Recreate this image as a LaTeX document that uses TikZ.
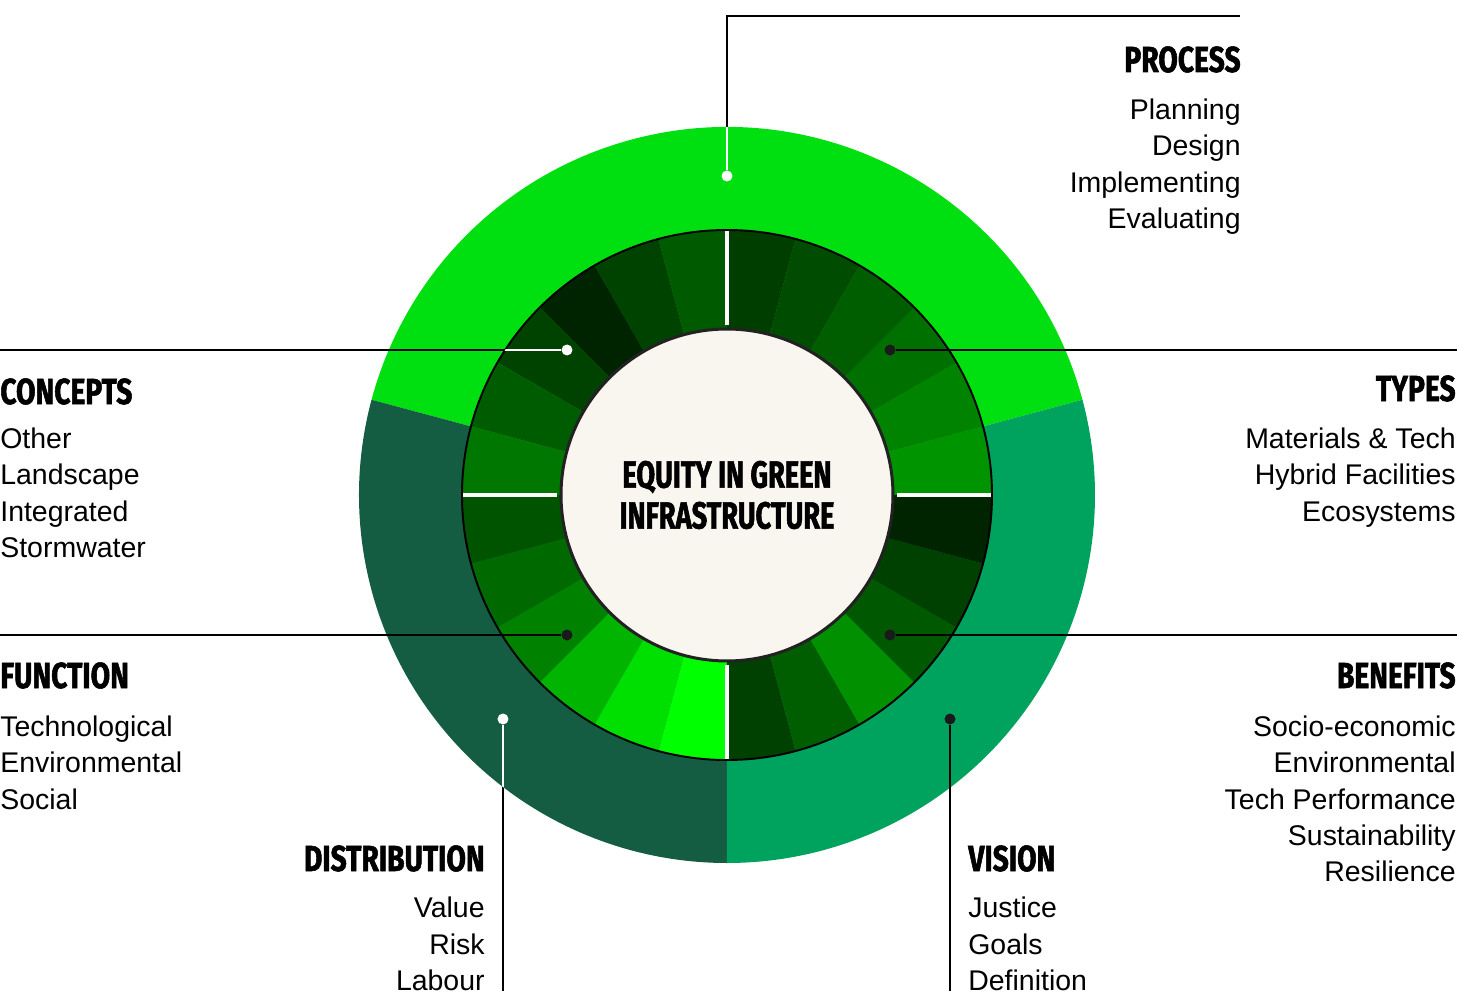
\documentclass[tikz,border=0pt]{standalone}
\usepackage{fontspec}
\setmainfont{Liberation Sans}
\newfontfamily\headfont[FakeStretch=0.78, FakeBold=1.5]{Fira Sans}
\newfontfamily\titlefont[FakeStretch=0.72, FakeBold=1.5]{Fira Sans}
\definecolor{ringbright}{HTML}{00E010}
\definecolor{ringdark}{HTML}{145C42}
\definecolor{ringmid}{HTML}{00A35E}
\definecolor{hubfill}{HTML}{F9F5EF}
\definecolor{hubline}{HTML}{222222}
\definecolor{dotink}{HTML}{1A1A1A}
\tikzstyle{leader} = [black, line width=0.9pt]
\tikzstyle{leaderwhite} = [white, line width=0.9pt]
\tikzstyle{dotblack} = [circle, fill=dotink, inner sep=0pt, minimum size=0.22cm]
\tikzstyle{dotwhite} = [circle, fill=white, inner sep=0pt, minimum size=0.22cm]
\tikzstyle{heading} = [inner sep=0pt, font=\headfont\bfseries\fontsize{20.6}{24}\selectfont]
\tikzstyle{items} = [inner sep=0pt, font=\fontsize{16.2}{20.5}\selectfont]

\begin{document}
\begin{tikzpicture}[
  x=0.02cm, y=0.02cm,
  hub/.style={circle, fill=hubfill, draw=hubline, line width=1.7pt, minimum size=6.64cm,
    align=center, font=\titlefont\bfseries\fontsize{21.5}{23.3}\selectfont},
]
\useasboundingbox (-727,-506) rectangle (730,495);

% outer ring
\fill[ringbright] (0,0) -- (15:368) arc[start angle=15, end angle=165, radius=368] -- cycle;
\fill[ringdark] (0,0) -- (165:368) arc[start angle=165, end angle=270, radius=368] -- cycle;
\fill[ringmid] (0,0) -- (270:368) arc[start angle=270, end angle=375, radius=368] -- cycle;

% inner ring, 15 degree slices
\foreach \a/\c in {0/009400, 15/008400, 30/007000, 45/005E00, 60/004C00, 75/003E00,
                   90/005A00, 105/004200, 120/002400, 135/004200, 150/005C00, 165/007800,
                   180/005400, 195/006A00, 210/008200, 225/00B400, 240/00E000, 255/00FF00,
                   270/004000, 285/005E00, 300/009000, 315/005800, 330/004000, 345/002400} {
  \definecolor{slice}{HTML}{\c}
  \fill[slice] (0,0) -- (\a:265) arc[start angle=\a, end angle=\a+15, radius=265] -- cycle;
}
\draw[black, line width=1.1pt] (0,0) circle[radius=265];
\foreach \a in {0,90,180,270}
  \draw[white, line width=2.8pt] (\a:170) -- (\a:264);

\node[hub] (hub) at (0,0) {EQUITY IN GREEN\\INFRASTRUCTURE};

% dots and leader ends
\node[dotwhite] (process-dot) at (0,319) {};
\node[dotblack] (types-dot) at (163,145) {};
\node[dotblack] (benefits-dot) at (163,-140) {};
\node[dotblack] (vision-dot) at (223,-224) {};
\node[dotwhite] (distribution-dot) at (-224,-224) {};
\node[dotblack] (function-dot) at (-160,-140) {};
\node[dotwhite] (concepts-dot) at (-160,145) {};
\coordinate (process-bend) at (0,479);
\coordinate (process-end) at (513,479);
\coordinate (types-end) at (730,145);
\coordinate (benefits-end) at (730,-140);
\coordinate (vision-end) at (223,-496);
\coordinate (distribution-end) at (-224,-496);
\coordinate (function-end) at (-727,-140);
\coordinate (concepts-end) at (-727,145);

\draw[leader] (process-dot) -- (process-bend) -- (process-end);
\draw[leader] (types-dot) -- (types-end);
\draw[leader] (benefits-dot) -- (benefits-end);
\draw[leader] (vision-dot) -- (vision-end);
\draw[leader] (distribution-dot) -- (distribution-end);
\draw[leader] (function-dot) -- (function-end);
\draw[leader] (concepts-dot) -- (concepts-end);
\begin{scope}
  \clip (0,0) circle[radius=368];
  \draw[leaderwhite] (process-dot) -- (process-bend);
  \draw[leaderwhite] (distribution-dot) -- (distribution-end);
\end{scope}
\begin{scope}
  \clip (0,0) circle[radius=265];
  \draw[leaderwhite] (concepts-dot) -- (concepts-end);
\end{scope}

% labels
\node[heading, anchor=base east] (process) at (514,423) {PROCESS};
\node[items, anchor=north east, align=right] (process-list) at (514,396)
  {Planning\\Design\\Implementing\\Evaluating};
\node[heading, anchor=base east] (types) at (729,94) {TYPES};
\node[items, anchor=north east, align=right] (types-list) at (729,67)
  {Materials \& Tech\\Hybrid Facilities\\Ecosystems};
\node[heading, anchor=base east] (benefits) at (729,-193) {BENEFITS};
\node[items, anchor=north east, align=right] (benefits-list) at (729,-221)
  {Socio-economic\\Environmental\\Tech Performance\\Sustainability\\Resilience};
\node[heading, anchor=base west] (vision) at (241,-376) {VISION};
\node[items, anchor=north west, align=left] (vision-list) at (241,-402)
  {Justice\\Goals\\Definition};
\node[heading, anchor=base east] (distribution) at (-242,-376) {DISTRIBUTION};
\node[items, anchor=north east, align=right] (distribution-list) at (-242,-402)
  {Value\\Risk\\Labour};
\node[heading, anchor=base west] (function) at (-727,-193) {FUNCTION};
\node[items, anchor=north west, align=left] (function-list) at (-727,-221)
  {Technological\\Environmental\\Social};
\node[heading, anchor=base west] (concepts) at (-727,91) {CONCEPTS};
\node[items, anchor=north west, align=left] (concepts-list) at (-727,67)
  {Other\\Landscape\\Integrated\\Stormwater};

\end{tikzpicture}
\end{document}
